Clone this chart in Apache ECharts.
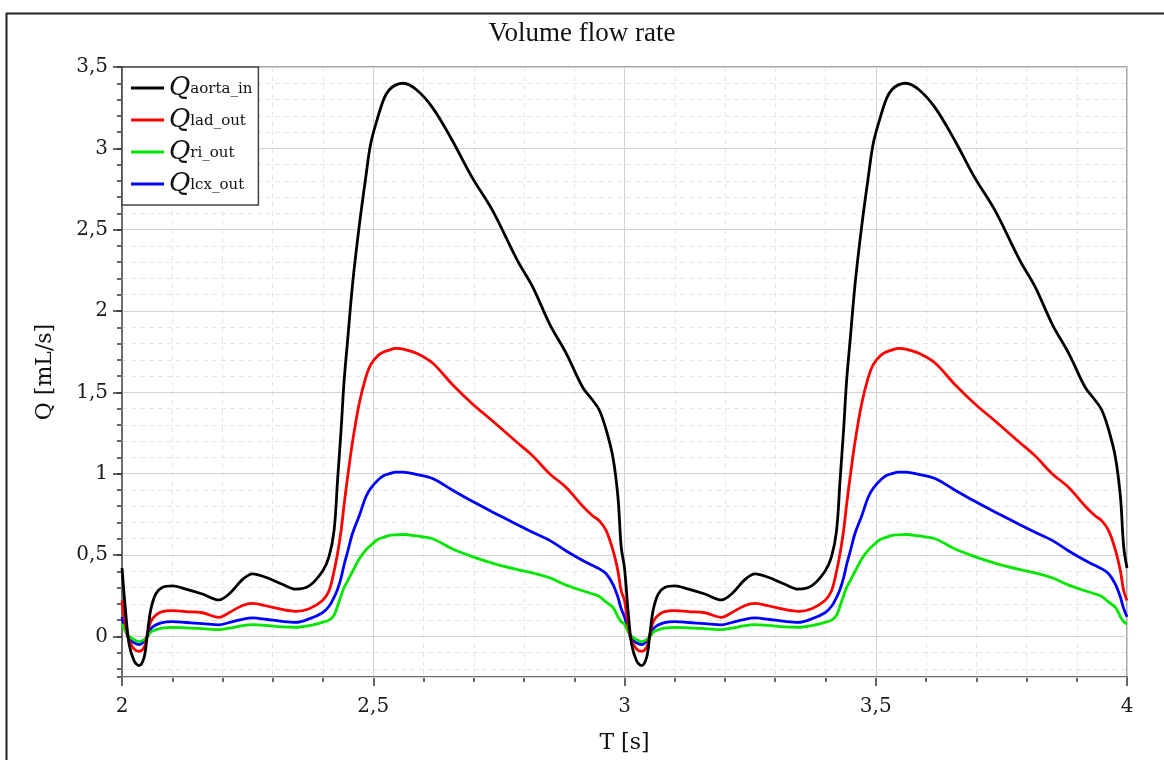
<!DOCTYPE html>
<html>
<head>
<meta charset="utf-8">
<script src="https://cdn.jsdelivr.net/npm/echarts@6/dist/echarts.min.js"></script>
<style>html,body{margin:0;padding:0;background:#fff}#c{width:1164px;height:760px}</style>
</head>
<body>
<div id="c"></div>
<script>
// One heart cycle (time offset within the cycle, s); the reference shows two identical cycles (t = 2..3 and 3..4)
const cycleTau = [0, 0.007, 0.014, 0.024, 0.034, 0.044, 0.050, 0.057, 0.067, 0.080, 0.100, 0.127, 0.160, 0.193, 0.213, 0.240, 0.260, 0.286, 0.319, 0.346, 0.3725, 0.399, 0.412, 0.422, 0.429, 0.436, 0.442, 0.449, 0.459, 0.472, 0.485, 0.495, 0.509, 0.522, 0.532, 0.545, 0.560, 0.586, 0.618, 0.657, 0.697, 0.737, 0.787, 0.817, 0.851, 0.884, 0.917, 0.937, 0.950, 0.9635, 0.977, 0.987, 0.9934, 1.0];
const cycleStarts = [2, 3];
const qAorta = [0.42, 0.16, -0.045, -0.15, -0.18, -0.13, 0.0, 0.16, 0.26, 0.30, 0.31, 0.29, 0.26, 0.224, 0.26, 0.35, 0.384, 0.363, 0.32, 0.29, 0.31, 0.40, 0.49, 0.65, 0.96, 1.27, 1.57, 1.82, 2.17, 2.52, 2.82, 3.03, 3.19, 3.31, 3.36, 3.39, 3.40, 3.36, 3.25, 3.05, 2.82, 2.62, 2.31, 2.15, 1.92, 1.74, 1.53, 1.45, 1.39, 1.27, 1.10, 0.855, 0.55, 0.42];
const qLad = [0.22, 0.076, -0.026, -0.078, -0.092, -0.068, 0.004, 0.09, 0.13, 0.152, 0.158, 0.152, 0.145, 0.117, 0.145, 0.19, 0.203, 0.188, 0.165, 0.154, 0.17, 0.22, 0.28, 0.40, 0.51, 0.65, 0.81, 0.98, 1.20, 1.43, 1.59, 1.67, 1.725, 1.75, 1.76, 1.77, 1.765, 1.74, 1.68, 1.55, 1.43, 1.325, 1.19, 1.11, 1.00, 0.915, 0.80, 0.74, 0.71, 0.65, 0.53, 0.40, 0.28, 0.22];
const qRi = [0.075, 0.03, 0.0, -0.02, -0.033, -0.02, -0.005, 0.025, 0.04, 0.05, 0.055, 0.052, 0.048, 0.041, 0.05, 0.066, 0.072, 0.067, 0.058, 0.055, 0.066, 0.086, 0.10, 0.13, 0.187, 0.25, 0.30, 0.34, 0.40, 0.475, 0.53, 0.56, 0.595, 0.61, 0.62, 0.624, 0.626, 0.617, 0.60, 0.538, 0.49, 0.45, 0.41, 0.39, 0.36, 0.315, 0.28, 0.26, 0.245, 0.21, 0.178, 0.12, 0.09, 0.075];
const qLcx = [0.12, 0.04, -0.016, -0.04, -0.051, -0.03, 0.0, 0.045, 0.07, 0.085, 0.09, 0.085, 0.078, 0.07, 0.085, 0.105, 0.113, 0.105, 0.092, 0.086, 0.107, 0.145, 0.185, 0.24, 0.29, 0.36, 0.44, 0.52, 0.635, 0.74, 0.855, 0.91, 0.96, 0.99, 1.0, 1.01, 1.01, 0.995, 0.97, 0.90, 0.83, 0.765, 0.686, 0.64, 0.59, 0.525, 0.466, 0.435, 0.415, 0.385, 0.32, 0.24, 0.17, 0.12];
const seriesNames = ['aorta_in', 'lad_out', 'ri_out', 'lcx_out'];
const seriesColors = ['#000000', '#ff0000', '#00e600', '#0000ff'];
const xTitle = 'T [s]';
const yTitle = 'Q [mL/s]';
const chartTitle = 'Volume flow rate';

function buildPoints(vals) {
  const pts = [];
  cycleStarts.forEach((t0, c) => {
    cycleTau.forEach((tau, i) => {
      if (c > 0 && i === 0) return;
      pts.push([t0 + tau, vals[i]]);
    });
  });
  return pts;
}
const allVals = [qAorta, qLad, qRi, qLcx];
const serif = "'DejaVu Serif', 'Liberation Serif', serif";
const comma = v => {
  const r = Math.round(v * 100) / 100;
  if (Math.abs(r * 2 - Math.round(r * 2)) > 1e-6) return '';
  return String(r).replace('.', ',');
};

const chart = echarts.init(document.getElementById('c'), null, {renderer: 'canvas'});
chart.setOption({
  animation: false,
  backgroundColor: '#fff',
  title: {
    text: chartTitle, left: 'center', top: 15,
    textStyle: {fontFamily: "'Liberation Serif', serif", fontWeight: 'normal', fontSize: 27, color: '#111'}
  },
  graphic: [{
    type: 'rect', left: 4, top: 11, z: 100, silent: true,
    shape: {width: 1300, height: 900},
    style: {fill: 'none', stroke: '#222', lineWidth: 2}
  }],
  grid: {left: 122, right: 37, top: 67, bottom: 83, show: true, borderColor: '#8a8a8a', borderWidth: 1.5, backgroundColor: '#fff'},
  legend: {
    orient: 'vertical', left: 122, top: 67,
    padding: [8, 6, 8, 9], itemGap: 6, itemWidth: 33, itemHeight: 3, icon: 'rect',
    backgroundColor: '#fff', borderColor: '#444', borderWidth: 1.5,
    data: seriesNames,
    formatter: n => '{q|Q}{s|' + n + '}',
    textStyle: {
      fontFamily: serif, color: '#111',
      rich: {
        q: {fontFamily: serif, fontStyle: 'italic', fontSize: 26, color: '#111', height: 29, verticalAlign: 'bottom'},
        s: {fontFamily: serif, fontSize: 15, color: '#111', height: 26, verticalAlign: 'bottom'}
      }
    }
  },
  xAxis: {
    type: 'value', min: 2, max: 4, interval: 0.5,
    name: xTitle, nameLocation: 'middle', nameGap: 55,
    nameTextStyle: {fontFamily: serif, fontSize: 22, color: '#111'},
    axisLine: {show: true, onZero: false, lineStyle: {color: '#6e6e6e', width: 2}},
    axisTick: {show: true, length: 9, lineStyle: {color: '#333', width: 1.5}},
    minorTick: {show: true, splitNumber: 5, length: 5, lineStyle: {color: '#333', width: 1.5}},
    axisLabel: {formatter: comma, fontFamily: serif, fontSize: 20, color: '#1a1a1a', margin: 20},
    splitLine: {show: true, lineStyle: {color: '#d2d2d2', width: 1}},
    minorSplitLine: {show: true, lineStyle: {color: '#e6e6e6', width: 1, type: [5, 4]}}
  },
  yAxis: [{
    type: 'value', min: -0.25, max: 3.5, splitNumber: 7, z: 3,
    name: yTitle, nameLocation: 'middle', nameGap: 66, nameRotate: 90,
    nameTextStyle: {fontFamily: serif, fontSize: 22, color: '#111'},
    axisLine: {show: true, onZero: false, lineStyle: {color: '#6e6e6e', width: 2}},
    axisTick: {show: true, length: 9, lineStyle: {color: '#333', width: 1.5}},
    axisLabel: {showMinLabel: false, formatter: comma, fontFamily: serif, fontSize: 20, color: '#1a1a1a', margin: 14},
    splitLine: {show: true, lineStyle: {color: '#d2d2d2', width: 1}}
  }, {
    type: 'value', min: -0.25, max: 3.5, splitNumber: 37, position: 'left', z: 1,
    axisLine: {show: false},
    axisTick: {show: true, length: 5, lineStyle: {color: '#333', width: 1.5}},
    axisLabel: {show: false},
    splitLine: {show: true, lineStyle: {color: '#e6e6e6', width: 1, type: [5, 4]}}
  }],
  series: seriesNames.map((n, k) => ({
    name: n, type: 'line', yAxisIndex: 0, showSymbol: false, symbol: 'none',
    smooth: 0.35, clip: true,
    color: seriesColors[k],
    lineStyle: {color: seriesColors[k], width: 2.8},
    data: buildPoints(allVals[k]),
    z: 10 - k
  }))
});
</script>
</body>
</html>
